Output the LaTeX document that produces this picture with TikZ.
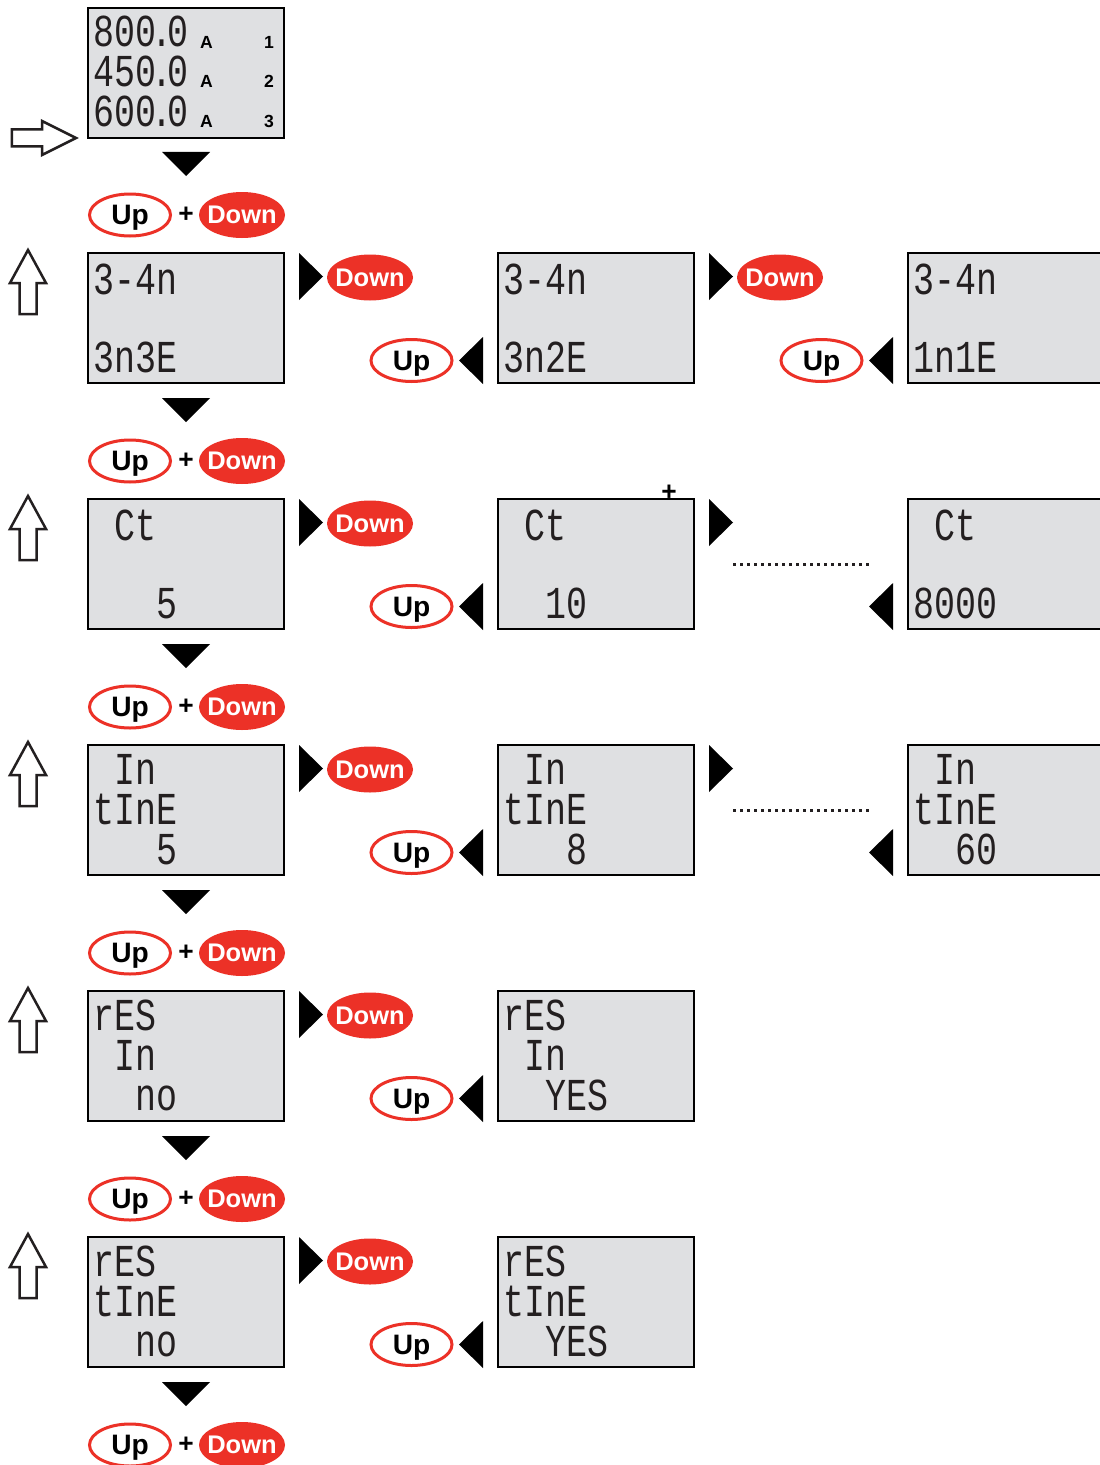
\documentclass[tikz,border=0pt]{standalone}
\usepackage{fontspec}
\usepackage{tikz}
\usetikzlibrary{shapes.geometric}
\setmainfont{Liberation Sans}
\newfontfamily\lcdfont[FakeStretch=0.765]{Liberation Mono}
\definecolor{keyred}{RGB}{236,49,39}
\definecolor{lcdgray}{RGB}{223,224,226}
\definecolor{lcdink}{RGB}{35,31,32}
\newcommand{\lcdgap}{\hphantom{0}}
\newcommand{\lcddot}{\kern-0.1cm.\kern-0.1cm}

\tikzset{
  lcd/.style={rectangle,
      draw = black,
      line width = 0.04cm,
      fill = lcdgray,
      minimum width = 3.92cm,
      minimum height = 2.6cm,
      inner sep = 0pt},
  % multi-line text: the base anchor sits on the last line
  lcdtext/.style={font=\lcdfont\fontsize{26}{22.76}\selectfont, text=lcdink, inner sep=0pt,
      anchor=base west, align=left},
  ampsign/.style={font=\bfseries\fontsize{10}{12}\selectfont, inner sep=0pt, anchor=base},
  upkey/.style={ellipse,
      draw = keyred,
      line width = 0.06cm,
      fill = white,
      minimum width = 1.62cm,
      minimum height = 0.84cm,
      inner sep = 0pt,
      text depth = 0pt,
      font = \bfseries\fontsize{16}{18}\selectfont},
  downkey/.style={ellipse,
      fill = keyred,
      text = white,
      minimum width = 1.72cm,
      minimum height = 0.92cm,
      inner xsep = -0.12cm,
      inner ysep = 0pt,
      font = \bfseries\fontsize{14.5}{18}\selectfont},
  pluskey/.style={font=\bfseries\fontsize{15}{18}\selectfont, inner sep=0pt},
  dotline/.style={line width=0.06cm, dash pattern=on 0.06cm off 0.08cm, lcdink},
  pics/tridown/.style={code={\fill (-0.48,0.24) -- (0.48,0.24) -- (0,-0.24) -- cycle;}},
  pics/triright/.style={code={\fill (-0.24,0.47) -- (0.24,0) -- (-0.24,-0.47) -- cycle;}},
  pics/trileft/.style={code={\fill (0.24,0.47) -- (-0.24,0) -- (0.24,-0.47) -- cycle;}},
  pics/hollowup/.style={code={\draw[line width=0.05cm, lcdink] (0,0.66) -- (0.36,0) -- (0.17,0) -- (0.17,-0.62)
      -- (-0.17,-0.62) -- (-0.17,0) -- (-0.36,0) -- cycle;}},
  pics/hollowright/.style={code={\draw[line width=0.05cm, lcdink] (0.68,0) -- (0,0.34) -- (0,0.17) -- (-0.6,0.17)
      -- (-0.6,-0.17) -- (0,-0.17) -- (0,-0.34) -- cycle;}},
}

\begin{document}
\begin{tikzpicture}
\path[use as bounding box, fill=white] (0,0) rectangle (22,-29.3);

% start display
\node[lcd] (disp0) at (3.72,-1.46) {};
\node[lcdtext] (t0) at ([xshift=0.12cm,yshift=-2.38cm]disp0.north west) {800\lcddot0\\450\lcddot0\\600\lcddot0};
\node[ampsign] (a1) at ([xshift=2.39cm,yshift=-0.84cm]disp0.north west) {A};
\node[ampsign] (a2) at ([xshift=2.39cm,yshift=-1.62cm]disp0.north west) {A};
\node[ampsign] (a3) at ([xshift=2.39cm,yshift=-2.4cm]disp0.north west) {A};
\node[ampsign] (n1) at ([xshift=3.64cm,yshift=-0.84cm]disp0.north west) {1};
\node[ampsign] (n2) at ([xshift=3.64cm,yshift=-1.62cm]disp0.north west) {2};
\node[ampsign] (n3) at ([xshift=3.64cm,yshift=-2.4cm]disp0.north west) {3};
\pic at (0.84,-2.76) {hollowright};
\pic at (3.72,-3.28) {tridown};
\node[upkey] (up0) at (2.6,-4.3) {Up};
\node[pluskey] (plus0) at (3.72,-4.3) {+};
\node[downkey] (down0) at (4.84,-4.3) {Down};

% first row
\pic at (0.56,-5.66) {hollowup};
\node[lcd] (disp1a) at (3.72,-6.36) {};
\node[lcd] (disp1b) at (11.92,-6.36) {};
\node[lcd] (disp1c) at (20.12,-6.36) {};
\node[lcdtext] (t1a) at ([xshift=0.12cm,yshift=-2.4cm]disp1a.north west) {3-4n\\[0.76cm]3n3E};
\node[lcdtext] (t1b) at ([xshift=0.12cm,yshift=-2.4cm]disp1b.north west) {3-4n\\[0.76cm]3n2E};
\node[lcdtext] (t1c) at ([xshift=0.12cm,yshift=-2.4cm]disp1c.north west) {3-4n\\[0.76cm]1n1E};
\pic at (6.22,-5.53) {triright};
\node[downkey] (down1a) at (7.4,-5.55) {Down};
\node[upkey] (up1a) at (8.23,-7.21) {Up};
\pic at (9.42,-7.21) {trileft};
\pic at (14.42,-5.53) {triright};
\node[downkey] (down1b) at (15.6,-5.55) {Down};
\node[upkey] (up1b) at (16.43,-7.21) {Up};
\pic at (17.62,-7.21) {trileft};
\pic at (3.72,-8.2) {tridown};
\node[upkey] (up1) at (2.6,-9.22) {Up};
\node[pluskey] (plus1) at (3.72,-9.22) {+};
\node[downkey] (down1) at (4.84,-9.22) {Down};

% second row
\pic at (0.56,-10.58) {hollowup};
\node[lcd] (disp2a) at (3.72,-11.28) {};
\node[lcd] (disp2b) at (11.92,-11.28) {};
\node[lcd] (disp2c) at (20.12,-11.28) {};
\node[lcdtext] (t2a) at ([xshift=0.12cm,yshift=-2.4cm]disp2a.north west) {\lcdgap Ct\\[0.76cm]\lcdgap\lcdgap\lcdgap 5};
\node[lcdtext] (t2b) at ([xshift=0.12cm,yshift=-2.4cm]disp2b.north west) {\lcdgap Ct\\[0.76cm]\lcdgap\lcdgap 10};
\node[lcdtext] (t2c) at ([xshift=0.12cm,yshift=-2.4cm]disp2c.north west) {\lcdgap Ct\\[0.76cm]8000};
\node[pluskey] (plus2b) at ([xshift=-0.52cm,yshift=0.1cm]disp2b.north east) {+};
\pic at (6.22,-10.45) {triright};
\node[downkey] (down2a) at (7.4,-10.47) {Down};
\node[upkey] (up2a) at (8.23,-12.13) {Up};
\pic at (9.42,-12.13) {trileft};
\pic at (14.42,-10.45) {triright};
\draw[dotline] ([xshift=0.76cm]disp2b.east) -- ([xshift=-0.76cm]disp2c.west);
\pic at (17.62,-12.13) {trileft};
\pic at (3.72,-13.12) {tridown};
\node[upkey] (up2) at (2.6,-14.14) {Up};
\node[pluskey] (plus2) at (3.72,-14.14) {+};
\node[downkey] (down2) at (4.84,-14.14) {Down};

% third row
\pic at (0.56,-15.5) {hollowup};
\node[lcd] (disp3a) at (3.72,-16.2) {};
\node[lcd] (disp3b) at (11.92,-16.2) {};
\node[lcd] (disp3c) at (20.12,-16.2) {};
\node[lcdtext] (t3a) at ([xshift=0.12cm,yshift=-2.4cm]disp3a.north west) {\lcdgap In\\tInE\\\lcdgap\lcdgap\lcdgap 5};
\node[lcdtext] (t3b) at ([xshift=0.12cm,yshift=-2.4cm]disp3b.north west) {\lcdgap In\\tInE\\\lcdgap\lcdgap\lcdgap 8};
\node[lcdtext] (t3c) at ([xshift=0.12cm,yshift=-2.4cm]disp3c.north west) {\lcdgap In\\tInE\\\lcdgap\lcdgap 60};
\pic at (6.22,-15.37) {triright};
\node[downkey] (down3a) at (7.4,-15.39) {Down};
\node[upkey] (up3a) at (8.23,-17.05) {Up};
\pic at (9.42,-17.05) {trileft};
\pic at (14.42,-15.37) {triright};
\draw[dotline] ([xshift=0.76cm]disp3b.east) -- ([xshift=-0.76cm]disp3c.west);
\pic at (17.62,-17.05) {trileft};
\pic at (3.72,-18.04) {tridown};
\node[upkey] (up3) at (2.6,-19.06) {Up};
\node[pluskey] (plus3) at (3.72,-19.06) {+};
\node[downkey] (down3) at (4.84,-19.06) {Down};

% fourth row
\pic at (0.56,-20.42) {hollowup};
\node[lcd] (disp4a) at (3.72,-21.12) {};
\node[lcd] (disp4b) at (11.92,-21.12) {};
\node[lcdtext] (t4a) at ([xshift=0.12cm,yshift=-2.4cm]disp4a.north west) {rES\\\lcdgap In\\\lcdgap\lcdgap no};
\node[lcdtext] (t4b) at ([xshift=0.12cm,yshift=-2.4cm]disp4b.north west) {rES\\\lcdgap In\\\lcdgap\lcdgap YES};
\pic at (6.22,-20.29) {triright};
\node[downkey] (down4a) at (7.4,-20.31) {Down};
\node[upkey] (up4a) at (8.23,-21.97) {Up};
\pic at (9.42,-21.97) {trileft};
\pic at (3.72,-22.96) {tridown};
\node[upkey] (up4) at (2.6,-23.98) {Up};
\node[pluskey] (plus4) at (3.72,-23.98) {+};
\node[downkey] (down4) at (4.84,-23.98) {Down};

% fifth row
\pic at (0.56,-25.34) {hollowup};
\node[lcd] (disp5a) at (3.72,-26.04) {};
\node[lcd] (disp5b) at (11.92,-26.04) {};
\node[lcdtext] (t5a) at ([xshift=0.12cm,yshift=-2.4cm]disp5a.north west) {rES\\tInE\\\lcdgap\lcdgap no};
\node[lcdtext] (t5b) at ([xshift=0.12cm,yshift=-2.4cm]disp5b.north west) {rES\\tInE\\\lcdgap\lcdgap YES};
\pic at (6.22,-25.21) {triright};
\node[downkey] (down5a) at (7.4,-25.23) {Down};
\node[upkey] (up5a) at (8.23,-26.89) {Up};
\pic at (9.42,-26.89) {trileft};
\pic at (3.72,-27.88) {tridown};
\node[upkey] (up5) at (2.6,-28.9) {Up};
\node[pluskey] (plus5) at (3.72,-28.9) {+};
\node[downkey] (down5) at (4.84,-28.9) {Down};

\end{tikzpicture}
\end{document}
